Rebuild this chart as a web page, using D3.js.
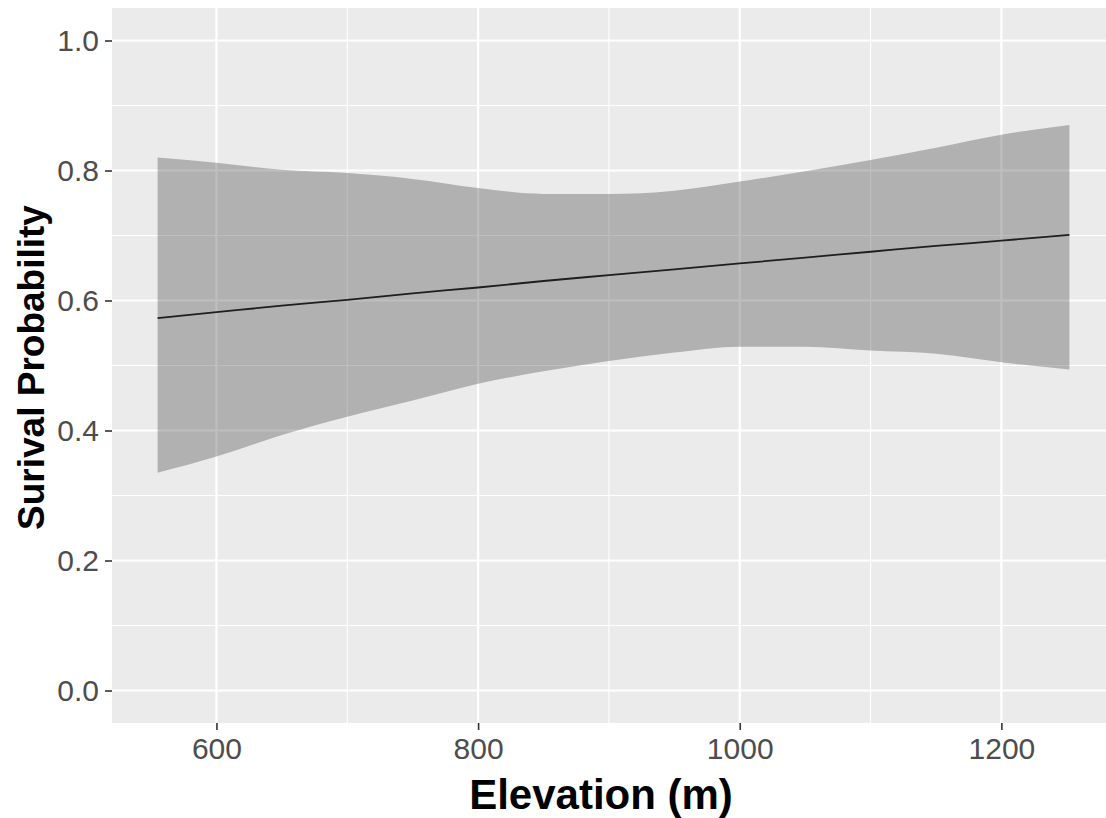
<!DOCTYPE html>
<html>
<head>
<meta charset="utf-8">
<script src="https://cdn.jsdelivr.net/npm/d3@7"></script>
<style>
  html, body { margin: 0; padding: 0; background: #ffffff; }
  svg { display: block; }
</style>
</head>
<body>
<svg id="chart" width="1106" height="818"></svg>
<script>
// Predicted survival across the elevation gradient, with its 95% confidence band
const elevation = [555, 600, 650, 700, 750, 800, 850, 900, 950, 1000, 1050, 1100, 1150, 1200, 1252];
const fitted    = [0.573, 0.582, 0.592, 0.601, 0.611, 0.620, 0.630, 0.639, 0.648, 0.657, 0.666, 0.675, 0.684, 0.692, 0.701];
const upperCI   = [0.820, 0.812, 0.801, 0.796, 0.787, 0.773, 0.764, 0.764, 0.769, 0.783, 0.799, 0.816, 0.835, 0.855, 0.870];
const lowerCI   = [0.335, 0.360, 0.393, 0.421, 0.446, 0.472, 0.491, 0.507, 0.520, 0.529, 0.529, 0.523, 0.518, 0.505, 0.494];

const xMajorTicks = [600, 800, 1000, 1200];
const xMinorTicks = [700, 900, 1100];
const yMajorTicks = [0.0, 0.2, 0.4, 0.6, 0.8, 1.0];
const yMinorTicks = [0.1, 0.3, 0.5, 0.7, 0.9];

const xTitle = "Elevation (m)";
const yTitle = "Surival Probability";

const rows = elevation.map((e, i) => ({ e, fit: fitted[i], lo: lowerCI[i], hi: upperCI[i] }));

const svg = d3.select("#chart");
const panel = { left: 112, top: 8, right: 1115, bottom: 723 };

// ggplot-style 5% expansion on x, fixed 0–1 limits with expansion on y
const xMin = d3.min(elevation), xMax = d3.max(elevation);
const xPad = (xMax - xMin) * 0.05;
const x = d3.scaleLinear().domain([xMin - xPad, xMax + xPad]).range([panel.left, panel.right]);
const y = d3.scaleLinear().domain([-0.05, 1.05]).range([panel.bottom, panel.top]);

// panel background
svg.append("rect")
  .attr("x", panel.left).attr("y", panel.top)
  .attr("width", panel.right - panel.left).attr("height", panel.bottom - panel.top)
  .attr("fill", "#ebebeb");

const grid = svg.append("g");
grid.selectAll("line.ymin").data(yMinorTicks).join("line")
  .attr("x1", panel.left).attr("x2", panel.right)
  .attr("y1", d => y(d)).attr("y2", d => y(d))
  .attr("stroke", "#ffffff").attr("stroke-width", 1.1);
grid.selectAll("line.xmin").data(xMinorTicks).join("line")
  .attr("y1", panel.top).attr("y2", panel.bottom)
  .attr("x1", d => x(d)).attr("x2", d => x(d))
  .attr("stroke", "#ffffff").attr("stroke-width", 1.1);
grid.selectAll("line.ymaj").data(yMajorTicks).join("line")
  .attr("x1", panel.left).attr("x2", panel.right)
  .attr("y1", d => y(d)).attr("y2", d => y(d))
  .attr("stroke", "#ffffff").attr("stroke-width", 2.2);
grid.selectAll("line.xmaj").data(xMajorTicks).join("line")
  .attr("y1", panel.top).attr("y2", panel.bottom)
  .attr("x1", d => x(d)).attr("x2", d => x(d))
  .attr("stroke", "#ffffff").attr("stroke-width", 2.2);

// confidence ribbon
const band = d3.area()
  .x(d => x(d.e))
  .y0(d => y(d.lo))
  .y1(d => y(d.hi))
  .curve(d3.curveMonotoneX);
svg.append("path").datum(rows)
  .attr("d", band)
  .attr("fill", "#555555")
  .attr("fill-opacity", 0.38);

// fitted curve
const fitLine = d3.line().x(d => x(d.e)).y(d => y(d.fit)).curve(d3.curveMonotoneX);
svg.append("path").datum(rows)
  .attr("d", fitLine)
  .attr("fill", "none")
  .attr("stroke", "#1e1e1e")
  .attr("stroke-width", 1.8);

// axes
const xAxis = d3.axisBottom(x).tickValues(xMajorTicks).tickSize(7).tickPadding(5).tickFormat(d3.format("d"));
const yAxis = d3.axisLeft(y).tickValues(yMajorTicks).tickSize(7).tickPadding(6).tickFormat(d3.format(".1f"));

const gx = svg.append("g").attr("transform", `translate(0,${panel.bottom})`).call(xAxis);
const gy = svg.append("g").attr("transform", `translate(${panel.left},0)`).call(yAxis);

[gx, gy].forEach(g => {
  g.select(".domain").remove();
  g.selectAll(".tick line").attr("stroke", "#333333").attr("stroke-width", 1.6);
  g.selectAll(".tick text")
    .attr("fill", "#4d4d4d")
    .style("font-family", "'Liberation Sans', Arial, sans-serif")
    .style("font-size", "30px");
});
gx.selectAll(".tick text").attr("dy", "0.8em");

// axis titles
svg.append("text")
  .attr("x", 601)
  .attr("y", 809)
  .attr("text-anchor", "middle")
  .style("font-family", "'Liberation Sans', Arial, sans-serif")
  .style("font-size", "42px")
  .style("font-weight", "bold")
  .attr("fill", "#000000")
  .text(xTitle);

svg.append("text")
  .attr("transform", `translate(44,${(panel.top + panel.bottom) / 2 + 2}) rotate(-90)`)
  .attr("text-anchor", "middle")
  .style("font-family", "'Liberation Sans', Arial, sans-serif")
  .style("font-size", "37px")
  .style("font-weight", "bold")
  .attr("fill", "#000000")
  .text(yTitle);
</script>
</body>
</html>
